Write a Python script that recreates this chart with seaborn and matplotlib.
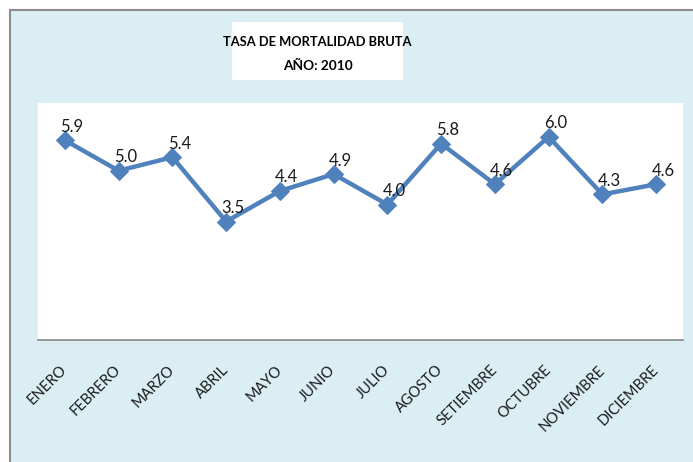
import matplotlib
matplotlib.use("Agg")
import matplotlib.pyplot as plt
import seaborn as sns
import pandas as pd
from matplotlib.patches import Rectangle

months = ["ENERO", "FEBRERO", "MARZO", "ABRIL", "MAYO", "JUNIO", "JULIO",
          "AGOSTO", "SETIEMBRE", "OCTUBRE", "NOVIEMBRE", "DICIEMBRE"]
rates = [5.9, 5.0, 5.4, 3.5, 4.4, 4.9, 4.0, 5.8, 4.6, 6.0, 4.3, 4.6]
title_lines = ["TASA DE MORTALIDAD BRUTA", "AÑO: 2010"]

sns.set_theme(style="white")
plt.rcParams["font.family"] = ["Lato", "DejaVu Sans"]

W, H = 693, 462
fig = plt.figure(figsize=(W / 100, H / 100), dpi=100, facecolor="white")

# chart area background with grey border
bg = Rectangle((10 / W, -0.01), 1.02 - 10 / W, 1.01 - 10 / H,
               transform=fig.transFigure, facecolor="#DAEEF3",
               edgecolor="#8C8C8C", linewidth=1.5, zorder=-5)
fig.patches.append(bg)

ax = fig.add_axes([38 / W, (H - 340) / H, 645 / W, 237 / H])
ax.set_zorder(2)
ax.set_facecolor("white")

df = pd.DataFrame({"mes": months, "tasa": rates})
color = "#4F81BD"
sns.lineplot(data=df, x="mes", y="tasa", ax=ax, color=color, linewidth=3.2,
             marker="D", markersize=9, markeredgecolor=color, sort=False)

ax.set_xlim(-0.5, len(months) - 0.5)
ax.set_ylim(0, 7)
ax.set_xlabel("")
ax.set_ylabel("")
ax.set_yticks([])
ax.set_xticks(range(len(months)))
ax.set_xticklabels(months, rotation=45, ha="right", va="center",
                   rotation_mode="anchor", fontsize=10.5, color="#1a1a1a")
ax.tick_params(axis="x", length=0, pad=20)
for s in ["top", "left", "right"]:
    ax.spines[s].set_visible(False)
ax.spines["bottom"].set_color("#868686")
ax.spines["bottom"].set_linewidth(1.2)

for i, v in enumerate(rates):
    ax.annotate(f"{v:.1f}", (i, v), xytext=(5, 4), textcoords="offset points",
                ha="center", va="bottom", fontsize=12, color="#1a1a1a")

fig.add_artist(Rectangle((232 / W, 1 - 80 / H), 171 / W, 58 / H,
                         transform=fig.transFigure, facecolor="white",
                         edgecolor="none", zorder=3))
fig.text(317.5 / W, 1 - 42 / H, title_lines[0], ha="center", va="center",
         fontsize=9.3, fontweight="bold", color="black", zorder=4)
fig.text(317.5 / W, 1 - 66 / H, title_lines[1], ha="center", va="center",
         fontsize=9.8, fontweight="bold", color="black", zorder=4)

fig.savefig("out.png", dpi=100, facecolor=fig.get_facecolor())
